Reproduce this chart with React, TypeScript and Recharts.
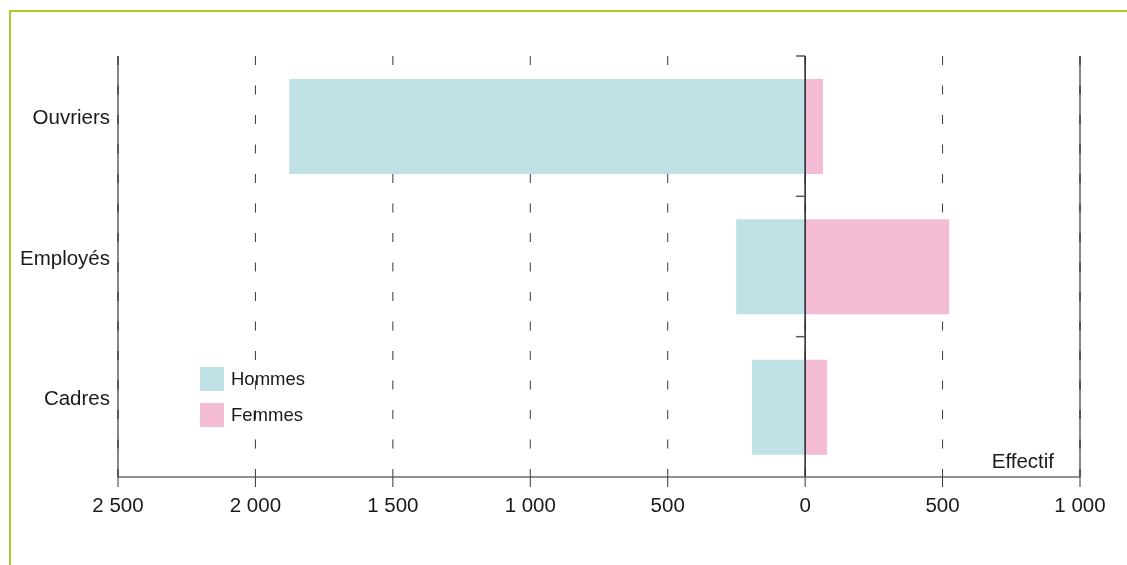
import React from 'react';
import { BarChart, Bar, XAxis, YAxis, CartesianGrid, ReferenceLine, Legend, Label } from 'recharts';

const categories = ['Ouvriers', 'Employés', 'Cadres'];
const hommes = [1877, 251, 193];
const femmes = [65, 524, 80];
const xTicks = [-2500, -2000, -1500, -1000, -500, 0, 500, 1000];

const data = categories.map((c, i) => ({ cat: c, hommes: -hommes[i], femmes: femmes[i] }));

const COLOR_H = '#bfe1e5';
const COLOR_F = '#f3bbd4';
const FONT = '"Liberation Sans", Arial, sans-serif';

const fmt = (v: number) => {
  const a = Math.abs(v);
  const s = String(a);
  return s.replace(/\B(?=(\d{3})+(?!\d))/g, ' ');
};

const LegendContent = () => (
  <div style={{ fontFamily: FONT, fontSize: 18.5, color: '#1a1a1a' }}>
    {[
      { name: 'Hommes', color: COLOR_H },
      { name: 'Femmes', color: COLOR_F },
    ].map((it) => (
      <div key={it.name} style={{ display: 'flex', alignItems: 'center', height: 24, marginBottom: 12 }}>
        <div style={{ width: 24, height: 24, background: it.color, marginRight: 7 }} />
        <span>{it.name}</span>
      </div>
    ))}
  </div>
);

export default function App() {
  return (
    <div style={{ position: 'relative', width: 1119, height: 549, fontFamily: FONT }}>
      <div
        style={{
          position: 'fixed',
          left: 9,
          top: 10,
          right: 0,
          bottom: 0,
          borderTop: '2px solid #adc82a',
          borderLeft: '2px solid #adc82a',
          boxSizing: 'border-box',
        }}
      />
      <BarChart
        width={1119}
        height={549}
        data={data}
        layout="vertical"
        stackOffset="sign"
        margin={{ top: 48, right: 47, bottom: 50, left: 10 }}
      >
        <CartesianGrid horizontal={false} stroke="#3a3a3a" strokeDasharray="9 20.5" />
        <XAxis
          type="number"
          domain={[-2500, 1000]}
          ticks={xTicks}
          interval={0}
          height={30}
          tickFormatter={fmt}
          tickSize={10}
          tickMargin={10}
          axisLine={{ stroke: '#6b6b6b', strokeWidth: 1.5 }}
          tickLine={{ stroke: '#333', strokeWidth: 1 }}
          tick={{ fontSize: 20.5, fill: '#1a1a1a', fontFamily: FONT }}
        >
          <Label
            content={(props: any) => {
              const vb = props.viewBox || {};
              return (
                <text
                  x={vb.x + vb.width - 26}
                  y={vb.y - 9}
                  textAnchor="end"
                  fontSize={20.5}
                  fill="#1a1a1a"
                  fontFamily={FONT}
                >
                  Effectif
                </text>
              );
            }}
          />
        </XAxis>
        <YAxis
          type="category"
          dataKey="cat"
          width={100}
          tickSize={0}
          tickMargin={8}
          tickLine={false}
          axisLine={{ stroke: '#111', strokeWidth: 1 }}
          tick={{ fontSize: 20.5, fill: '#1a1a1a', fontFamily: FONT, dy: -9 }}
        />
        <Bar dataKey="hommes" stackId="a" fill={COLOR_H} barSize={95} isAnimationActive={false} />
        <Bar dataKey="femmes" stackId="a" fill={COLOR_F} barSize={95} isAnimationActive={false} />
        <ReferenceLine x={1000} stroke="#111" strokeWidth={1} />
        <ReferenceLine x={0} stroke="#222" strokeWidth={1.5} />
        {categories.map((c) => (
          <ReferenceLine
            key={c}
            segment={[{ x: -33, y: c }, { x: 0, y: c }]}
            position="start"
            stroke="#555"
            strokeWidth={1.5}
          />
        ))}
        <Legend
          layout="vertical"
          align="center"
          verticalAlign="middle"
          content={<LegendContent />}
          wrapperStyle={{ left: 192, top: 359, width: 150 }}
        />
      </BarChart>
    </div>
  );
}
